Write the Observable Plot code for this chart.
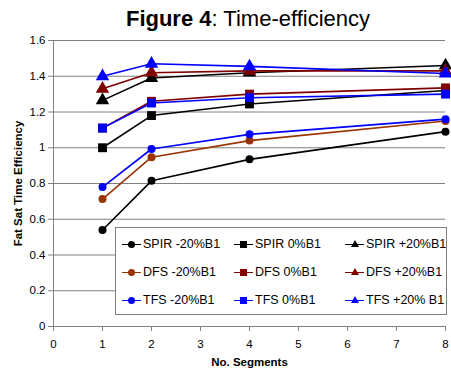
<!DOCTYPE html>
<html>
<head>
<meta charset="utf-8">
<script src="https://cdn.jsdelivr.net/npm/d3@7"></script>
<script src="https://cdn.jsdelivr.net/npm/@observablehq/plot@0.6"></script>
<style>
  body { margin: 0; background: #fff; font-family: "Liberation Sans", Arial, sans-serif; }
  #wrap { position: relative; width: 451px; height: 370px; }
  #chart { position: absolute; left: 0; top: 0; z-index: 0; }
  #title { position: absolute; z-index: 2; left: 0; width: 496px; top: 6px; text-align: center; font-size: 22px; line-height: 26px; color: #000; }
  #legend { position: absolute; z-index: 2; left: 115px; top: 227px; width: 332px; height: 88px; border: 1px solid #808080; background: #fff; box-sizing: border-box; }
  .item { position: absolute; font-size: 12.5px; color: #000; height: 14px; line-height: 14px; white-space: nowrap; }
  .swatch { position: absolute; left: 0; top: 7px; width: 19px; height: 0; border-top: 1.5px solid; }
  .mk { position: absolute; }
  .lbl { position: absolute; left: 21px; top: 0; }
  svg text { font-family: "Liberation Sans", Arial, sans-serif; }
  g[aria-label="y-axis label"] text, g[aria-label="x-axis label"] text { font-weight: bold; }
</style>
</head>
<body>
<div id="wrap">
  <div id="chart"></div>
  <div id="title"><b>Figure 4</b>: Time-efficiency</div>
  <div id="legend"></div>
</div>
<script>
const segments = [1, 2, 4, 8];
const spirMinus20 = [0.54, 0.815, 0.935, 1.09];
const spirZero    = [1.0, 1.18, 1.245, 1.32];
const spirPlus20  = [1.265, 1.39, 1.42, 1.46];
const dfsMinus20  = [0.713, 0.947, 1.04, 1.15];
const dfsZero     = [1.11, 1.26, 1.30, 1.335];
const dfsPlus20   = [1.33, 1.42, 1.43, 1.43];
const tfsMinus20  = [0.78, 0.993, 1.075, 1.16];
const tfsZero     = [1.11, 1.25, 1.28, 1.30];
const tfsPlus20   = [1.40, 1.47, 1.455, 1.415];
const seriesNames = ["SPIR -20%B1", "SPIR 0%B1", "SPIR +20%B1",
                     "DFS -20%B1", "DFS 0%B1", "DFS +20%B1",
                     "TFS -20%B1", "TFS 0%B1", "TFS +20% B1"];
const seriesValues = [spirMinus20, spirZero, spirPlus20, dfsMinus20, dfsZero, dfsPlus20, tfsMinus20, tfsZero, tfsPlus20];
const seriesColors = ["#000000", "#000000", "#000000", "#993300", "#800000", "#800000", "#0000FF", "#0000FF", "#0000FF"];
const seriesSymbols = ["circle", "square", "triangle", "circle", "square", "triangle", "circle", "square", "triangle"];
const xTicks = [0, 1, 2, 3, 4, 5, 6, 7, 8];
const yTicks = [0, 0.2, 0.4, 0.6, 0.8, 1.0, 1.2, 1.4, 1.6];

const rows = [];
seriesNames.forEach((name, i) => {
  segments.forEach((s, j) => rows.push({series: name, idx: i, x: s, y: seriesValues[i][j]}));
});

const marks = [
  Plot.gridY(yTicks, {stroke: "#808080", strokeOpacity: 1, strokeWidth: 1}),
  Plot.ruleX([0], {stroke: "#808080"}),
  Plot.ruleY([0], {stroke: "#808080"}),
  Plot.axisY({ticks: yTicks, tickFormat: d => String(+d.toFixed(1)), tickSize: 5, tickPadding: 3, fontSize: 11.5, stroke: "#808080",
    label: "Fat Sat Time Efficiency", labelAnchor: "center", labelArrow: "none", labelOffset: 40}),
  Plot.axisX({ticks: xTicks, tickFormat: d => String(d), tickSize: 5, tickPadding: 8, fontSize: 11.5, stroke: "#808080",
    label: "No. Segments", labelAnchor: "center", labelArrow: "none", labelOffset: 39})
];
seriesNames.forEach((name, i) => {
  const d = rows.filter(r => r.idx === i);
  marks.push(Plot.line(d, {x: "x", y: "y", stroke: seriesColors[i], strokeWidth: 1.6}));
  const sym = seriesSymbols[i];
  const r = sym === "circle" ? 4.0 : 5.0;
  marks.push(Plot.dot(d, {x: "x", y: "y", fill: seriesColors[i], stroke: "none", symbol: () => sym, r}));
});

const chart = Plot.plot({
  width: 451,
  height: 370,
  marginLeft: 53,
  marginRight: 6,
  marginTop: 40,
  marginBottom: 44,
  style: {fontFamily: "Liberation Sans, Arial, sans-serif", fontSize: "11.5px", color: "#000", background: "#fff"},
  x: {domain: [0, 8]},
  y: {domain: [0, 1.6]},
  symbol: {type: "identity"},
  marks
});
document.getElementById("chart").appendChild(chart);

// legend
const legend = document.getElementById("legend");
const colX = [6, 118, 229];
const rowY = [9, 37, 65];
seriesNames.forEach((name, i) => {
  const item = document.createElement("div");
  item.className = "item";
  item.style.left = colX[i % 3] + "px";
  item.style.top = rowY[Math.floor(i / 3)] + "px";
  const sw = document.createElement("div");
  sw.className = "swatch";
  sw.style.borderTopColor = seriesColors[i];
  item.appendChild(sw);
  const mk = document.createElement("div");
  mk.className = "mk";
  const c = seriesColors[i];
  if (seriesSymbols[i] === "circle") {
    Object.assign(mk.style, {left: "6px", top: "3.5px", width: "7px", height: "7px", borderRadius: "50%", background: c});
  } else if (seriesSymbols[i] === "square") {
    Object.assign(mk.style, {left: "6px", top: "3.5px", width: "7px", height: "7px", background: c});
  } else {
    Object.assign(mk.style, {left: "5.5px", top: "3px", width: "0", height: "0", borderLeft: "4px solid transparent", borderRight: "4px solid transparent", borderBottom: "7px solid " + c});
  }
  item.appendChild(mk);
  const lb = document.createElement("div");
  lb.className = "lbl";
  lb.textContent = name;
  item.appendChild(lb);
  legend.appendChild(item);
});
</script>
</body>
</html>
